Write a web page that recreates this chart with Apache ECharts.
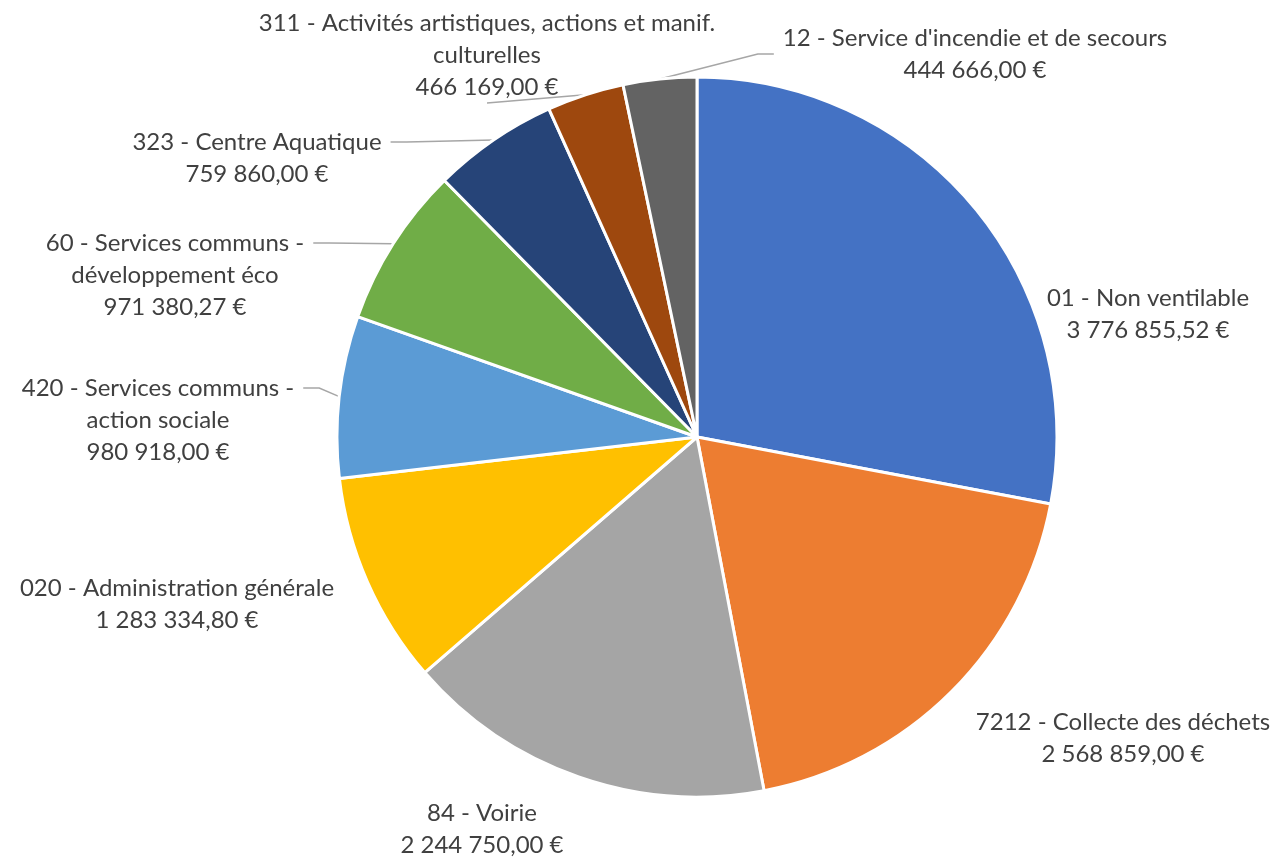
<!DOCTYPE html>
<html><head><meta charset="utf-8">
<script src="https://cdn.jsdelivr.net/npm/echarts@6/dist/echarts.min.js"></script>
<style>html,body{margin:0;padding:0;background:#fff}#c{width:1276px;height:859px}</style>
</head><body><div id="c"></div>
<script>
const categories = [
  "01 - Non ventilable",
  "7212 - Collecte des déchets",
  "84 - Voirie",
  "020 - Administration générale",
  "420 - Services communs -\naction sociale",
  "60 - Services communs -\ndéveloppement éco",
  "323 - Centre Aquatique",
  "311 - Activités artistiques, actions et manif.\nculturelles",
  "12 - Service d'incendie et de secours"
];
const values = [3776855.52, 2568859.00, 2244750.00, 1283334.80, 980918.00, 971380.27, 759860.00, 466169.00, 444666.00];
const colors = ["#4472C4","#ED7D31","#A5A5A5","#FFC000","#5B9BD5","#70AD47","#264478","#9E480E","#636363"];
const showLine = [false,false,false,false,true,true,true,true,true];
// label anchor positions (layout); leading empty lines so leader lines meet the first text line
const labelPos = [[1148,314],[1123,738],[482,829],[177,604],[158,388],[175,243],[257,142],[487,55],[975,54]];
const labelLeadLines = [0,0,0,0,2,2,1,0,0];

function fmt(v){
  const parts = v.toFixed(2).split('.');
  const int = parts[0].replace(/\B(?=(\d{3})+(?!\d))/g,' ');
  return int + ',' + parts[1] + ' €';
}

const chart = echarts.init(document.getElementById('c'));
chart.setOption({
  animation:false,
  series:[{
    type:'pie',
    center:[697,437],
    radius:360,
    startAngle:90,
    clockwise:true,
    itemStyle:{borderColor:'#fff',borderWidth:3},
    label:{
      show:true,
      color:'#404040',
      fontFamily:'Lato',
      fontSize:24,
      lineHeight:32,
      align:'center',
      overflow:'none',
      edgeDistance:0,
      formatter:p=>' \n'.repeat(labelLeadLines[p.dataIndex]) + p.name+'\n'+fmt(p.value)
    },
    labelLine:{lineStyle:{color:'#A6A6A6',width:1.5},length:20,length2:16},
    labelLayout:function(p){
      const pos = labelPos[p.dataIndex];
      return {x:pos[0], y:pos[1], align:'center', verticalAlign:'middle', width:p.labelRect.width + 18};
    },
    data:categories.map((c,i)=>({
      name:c, value:values[i],
      itemStyle:{color:colors[i]},
      labelLine:{show:showLine[i]}
    }))
  }]
});
</script></body></html>
